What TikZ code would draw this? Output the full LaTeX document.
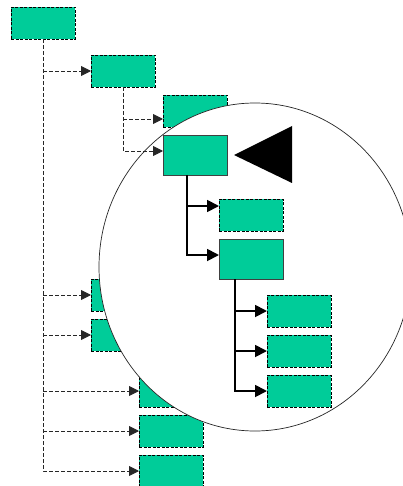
\documentclass[tikz,border=0pt]{standalone}
\usetikzlibrary{arrows.meta,shapes.geometric}
\definecolor{boxfill}{RGB}{0,204,153}
\begin{document}
\begin{tikzpicture}[x=1pt,y=-1pt,
  dbox/.style={draw=black,fill=boxfill,line width=0.8pt,dash pattern=on 3pt off 1.5pt,
    minimum width=64pt,minimum height=32pt,inner sep=0pt,outer sep=0pt},
  sbox/.style={draw=black!75,fill=boxfill,line width=0.9pt,
    minimum width=64pt,minimum height=40pt,inner sep=0pt,outer sep=0pt},
  dline/.style={line width=0.9pt,dash pattern=on 4pt off 2pt,black!85},
  darr/.style={dline,-{Triangle[length=10pt,width=10pt]}},
  sline/.style={line width=1.8pt,black},
  sarr/.style={sline,-{Triangle[length=12pt,width=12pt]}},
  lensstyle/.style={ellipse,draw=black!85,fill=white,line width=0.7pt,
    minimum width=312pt,minimum height=328pt,inner sep=0pt}]
\useasboundingbox (0,0) rectangle (402,486);

% outer (dashed) tree
\node[dbox] (A) at (43,23) {};
\node[dbox] (B) at (123,71) {};
\node[dbox] (C) at (195,111) {};
\node[dbox] (J) at (123,295) {};
\node[dbox] (K) at (123,335) {};
\node[dbox] (L) at (171,391) {};
\node[dbox] (M) at (171,431) {};
\node[dbox] (N) at (171,471) {};

\coordinate (Ca) at ([yshift=-8pt]C.west);
\draw[darr] (A.south) |- (N.west);
\draw[darr] (A.south |- B.west) -- (B.west);
\draw[darr] (A.south |- J.west) -- (J.west);
\draw[darr] (A.south |- K.west) -- (K.west);
\draw[darr] (A.south |- L.west) -- (L.west);
\draw[darr] (A.south |- M.west) -- (M.west);
\draw[darr] (B.south |- Ca) -- (Ca);

% magnifying lens
\node[lensstyle] (lens) at (255,267) {};

% magnified part
\node[sbox] (D) at (195,155) {};
\node[dbox] (E) at (251,215) {};
\node[sbox] (F) at (251,259) {};
\node[dbox] (G) at (299,311) {};
\node[dbox] (H) at (299,351) {};
\node[dbox] (I) at (299,391) {};

\coordinate (Da) at ([yshift=4pt]D.west);
\draw[darr] (B.south) |- (Da);

\coordinate (Dt) at ([xshift=-8pt]D.south);
\coordinate (Ea) at ([yshift=9pt]E.west);
\coordinate (Fa) at ([yshift=4pt]F.west);
\draw[sarr] (Dt) |- (Fa);
\draw[sarr] (Dt |- Ea) -- (Ea);

\coordinate (Ft) at ([xshift=-16pt]F.south);
\draw[sarr] (Ft) |- (I.west);
\draw[sarr] (Ft |- G.west) -- (G.west);
\draw[sarr] (Ft |- H.west) -- (H.west);

% pointer triangle
\fill[black] (234,155) -- (292,126) -- (292,183) -- cycle;
\end{tikzpicture}
\end{document}
